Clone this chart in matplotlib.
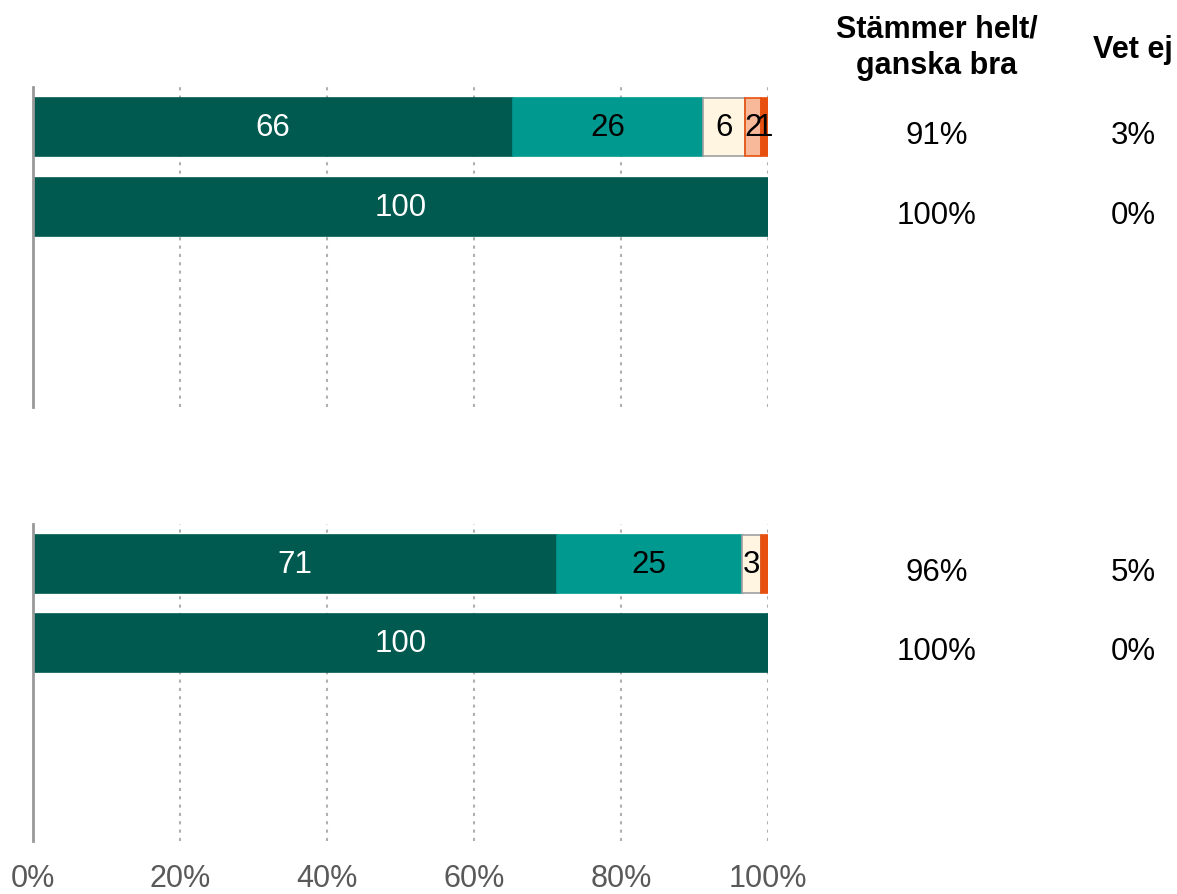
import matplotlib.pyplot as plt
from matplotlib.ticker import FuncFormatter

plt.rcParams['font.family'] = ['Liberation Sans', 'DejaVu Sans']

# segment colours: stämmer helt, ganska bra, varken eller, ganska dåligt, helt dåligt
colors = ['#005A4F', '#00998F', '#FFF5E1', '#F8B99B', '#E8500F']
edges = ['#005A4F', '#00998F', '#A0A0A0', '#E8500F', '#E8500F']
text_colors = ['white', 'black', 'black', 'black', 'black']

# group 1
values_1 = [[65.3, 25.9, 5.7, 2.1, 1.0],
            [100.0, 0, 0, 0, 0]]
labels_1 = [['66', '26', '6', '2', '1'],
            ['100', '', '', '', '']]
agree_1 = ['91%', '100%']
dontknow_1 = ['3%', '0%']

# group 2
values_2 = [[71.3, 25.1, 2.6, 0, 1.0],
            [100.0, 0, 0, 0, 0]]
labels_2 = [['71', '25', '3', '', ''],
            ['100', '', '', '', '']]
agree_2 = ['96%', '100%']
dontknow_2 = ['5%', '0%']

xticks = [0, 20, 40, 60, 80, 100]

W, H = 1177, 895
fig = plt.figure(figsize=(W / 100, H / 100), dpi=100)


def px_axes(left, top, right, bottom):
    return fig.add_axes([left / W, 1 - bottom / H, (right - left) / W, (bottom - top) / H])


def draw_group(ax, values, labels, agree, dontknow):
    for row, (vals, labs) in enumerate(zip(values, labels)):
        left = 0
        for i, (v, lab) in enumerate(zip(vals, labs)):
            if v > 0:
                ax.barh(row, v, left=left, height=0.73, color=colors[i],
                        edgecolor=edges[i], linewidth=1.2, zorder=3)
                if lab:
                    ax.text(left + v / 2, row, lab, ha='center', va='center',
                            fontsize=22.5, color=text_colors[i], zorder=4)
            left += v
        ax.text(123, row + 0.1, agree[row], ha='center', va='center',
                fontsize=22.5, clip_on=False)
        ax.text(149.7, row + 0.1, dontknow[row], ha='center', va='center',
                fontsize=22.5, clip_on=False)

    ax.set_xlim(0, 100)
    ax.set_ylim(3.5, -0.5)
    ax.set_xticks(xticks)
    ax.set_yticks([])
    ax.grid(axis='x', linestyle=(0, (1.5, 2.5)), color='#B0B0B0', linewidth=1.5, zorder=0)
    for s in ['top', 'right', 'bottom']:
        ax.spines[s].set_visible(False)
    ax.spines['left'].set_color('#999999')
    ax.spines['left'].set_linewidth(2)
    ax.spines['left'].set_zorder(5)
    ax.tick_params(axis='both', length=0)


ax1 = px_axes(33, 88, 768, 408)
draw_group(ax1, values_1, labels_1, agree_1, dontknow_1)
ax1.set_xticklabels([])

ax2 = px_axes(33, 525, 768, 842)
draw_group(ax2, values_2, labels_2, agree_2, dontknow_2)
ax2.xaxis.set_major_formatter(FuncFormatter(lambda v, p: f'{v:.0f}%'))
ax2.tick_params(axis='x', labelsize=22, labelcolor='#595959', pad=16)

fig.text(937 / W, 1 - 48 / H, 'Stämmer helt/\nganska bra', ha='center', va='center',
         fontsize=22, fontweight='bold', linespacing=1.3)
fig.text(1133 / W, 1 - 50 / H, 'Vet ej', ha='center', va='center',
         fontsize=22, fontweight='bold')

fig.savefig('out.png', dpi=100)
